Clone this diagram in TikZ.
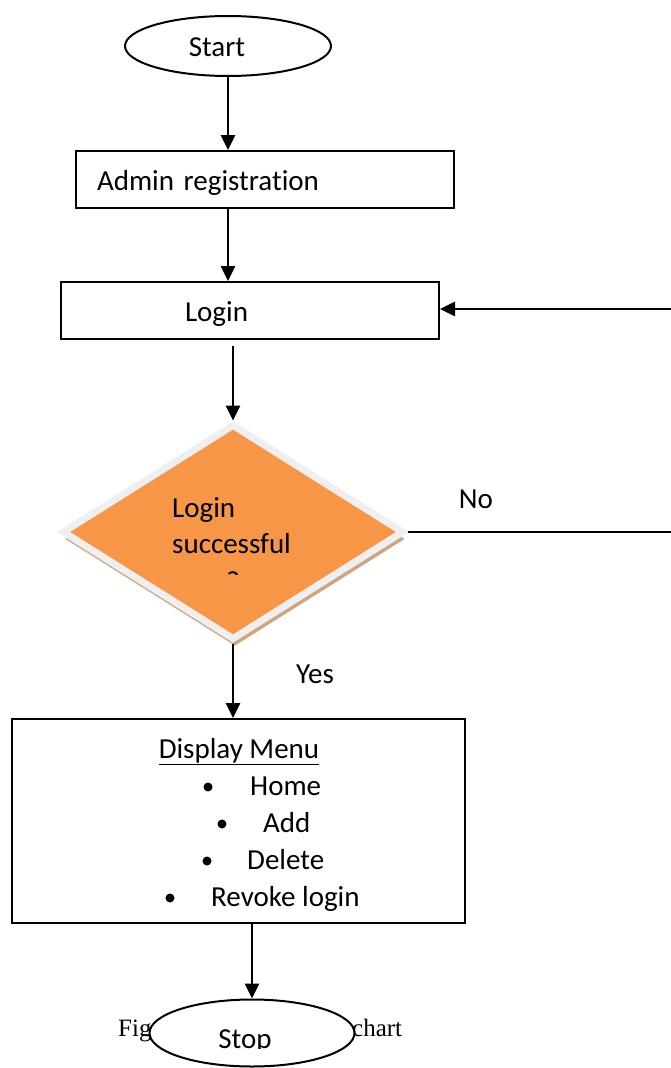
\documentclass[tikz,border=0pt]{standalone}
\usepackage{fontspec}
\setmainfont{Carlito}[Ligatures=NoCommon]
\newfontfamily\capfont{Liberation Serif}
\usetikzlibrary{arrows.meta,shapes.geometric,shadows}
\definecolor{dorange}{HTML}{F79646}
\definecolor{dshadow}{HTML}{CFA581}
\definecolor{dborder}{HTML}{EFEFEF}
\begin{document}
\begin{tikzpicture}[x=1pt,y=-1pt, font=\fontsize{29}{35}\selectfont,
  box/.style={draw, line width=2pt, minimum height=57pt, inner ysep=0pt, text height=25pt, text depth=3.4pt},
  term/.style={draw, ellipse, line width=2pt, fill=white, inner sep=0pt},
  flow/.style={line width=2.8pt, -{Triangle[length=15pt,width=14pt]}},
  plain/.style={line width=2.8pt},
  txt/.style={inner sep=0pt, anchor=base west},
  dot/.style={circle, fill=black, inner sep=0pt, minimum size=9pt}]
\useasboundingbox (0,0) rectangle (671,1068);

% Start
\node[term, minimum width=206pt, minimum height=60pt] (start) at (228,46) {};
\node[inner sep=0pt] (starttxt) at (217,47) {Start};

% Admin registration
\node[box, minimum width=378pt, inner xsep=21pt, text width=336pt, align=left] (admin) at (265,179.5) {Admin registration};

% Login
\node[box, minimum width=378pt, inner xsep=124pt, text width=130pt, align=left] (login) at (250,310.5) {Login};

% Decision
\node[diamond, draw=dborder, fill=dorange, line width=7pt, minimum width=342pt, minimum height=216pt, inner sep=0pt,
  drop shadow={shadow xshift=2pt, shadow yshift=-7pt, fill=dshadow, opacity=1}] (dec) at (233,532) {};
\node[txt] (q1) at (172,517) {Login};
\node[txt] (q2) at (172,553) {successful};
\begin{scope}
  \clip (200,555) rectangle (270,574);
  \node[inner sep=0pt, anchor=base] (q3) at (233,591) {?};
\end{scope}

\node[inner sep=0pt] (nolbl) at (476,499) {No};
\node[inner sep=0pt] (yeslbl) at (315,674) {Yes};

% Menu
\node[draw, line width=2pt, minimum width=453pt, minimum height=204pt, inner sep=0pt] (menu) at (238.5,821) {};
\node[inner sep=0pt, anchor=base] (m0) at (239,758) {\underline{Display Menu}};
\node[dot] (b1) at (208,787) {};
\node[txt] (m1) at (250,795) {Home};
\node[dot] (b2) at (222,824) {};
\node[txt] (m2) at (263,832) {Add};
\node[dot] (b3) at (207,861) {};
\node[txt] (m3) at (247,869) {Delete};
\node[dot] (b4) at (170,898) {};
\node[txt] (m4) at (211,906) {Revoke login};

% Caption pieces (behind stop)
\node[inner sep=0pt, anchor=base west, font=\capfont\fontsize{25}{30}\selectfont] (capa) at (118,1036) {Fig};
\node[inner sep=0pt, anchor=base west, font=\capfont\fontsize{25}{30}\selectfont] (capb) at (352,1036) {chart};

% Stop
\node[term, minimum width=205pt, minimum height=67pt] (stop) at (252,1033) {};
\begin{scope}
  \clip (190,1010) rectangle (320,1048);
  \node[inner sep=0pt, anchor=base] (stoptxt) at (245,1048) {Stop};
\end{scope}

% Connectors
\coordinate (noend) at (671,0);
\coordinate (retstart) at (671,309);
\draw[flow] (start.south) -- (admin.north -| start.south);
\draw[flow] (admin.south -| start.south) -- (login.north -| start.south);
\draw[flow] ([yshift=-6pt]login.south -| dec.north) -- (dec.north);
\draw[plain] (dec.east) -- (dec.east -| noend);
\draw[flow] (retstart) -- (login.east |- retstart);
\draw[flow] (dec.south) -- (dec.south |- menu.north);
\draw[flow] (menu.south -| stop.north) -- (stop.north);
\end{tikzpicture}
\end{document}
